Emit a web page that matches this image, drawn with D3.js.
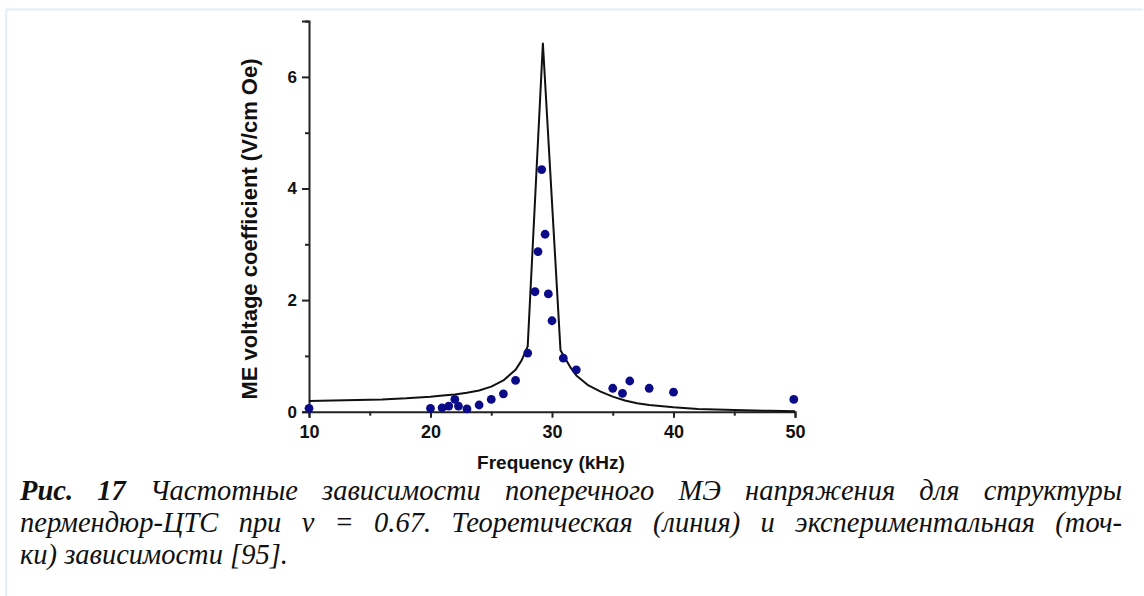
<!DOCTYPE html>
<html><head><meta charset="utf-8">
<script src="https://cdn.jsdelivr.net/npm/d3@7"></script>
<style>
html,body{margin:0;padding:0;background:#fff;}
svg{display:block;}
</style></head>
<body>
<svg id="chart" width="1144" height="596"></svg>
<script>
// Theoretical curve
const theoryFreq = [10, 12, 14, 16, 18, 20, 21, 22, 23, 24, 25, 26, 27, 27.5, 28, 29.25, 30.7, 31.5, 32, 33, 34, 35, 36, 37, 38, 40, 42, 45, 48, 50];
const theoryVal  = [0.19, 0.20, 0.21, 0.22, 0.24, 0.27, 0.29, 0.31, 0.34, 0.38, 0.45, 0.56, 0.75, 0.92, 1.17, 6.6, 1.1, 0.8, 0.65, 0.47, 0.36, 0.27, 0.2, 0.15, 0.12, 0.08, 0.05, 0.03, 0.015, 0.01];
// Experimental points
const expFreq = [10, 20, 20.95, 21.5, 22, 22.3, 23, 24, 25, 26, 27, 28, 28.6, 28.85, 29.15, 29.43, 29.7, 30, 30.93, 32, 35, 35.8, 36.4, 38, 40, 49.9];
const expVal  = [0.06, 0.06, 0.07, 0.1, 0.22, 0.1, 0.05, 0.12, 0.22, 0.32, 0.56, 1.05, 2.15, 2.87, 4.34, 3.18, 2.11, 1.63, 0.96, 0.75, 0.42, 0.33, 0.55, 0.42, 0.35, 0.22];
// Ticks
const xMajor = [10, 20, 30, 40, 50];
const xMinor = [15, 25, 35, 45];
const yMajor = [0, 2, 4, 6];
const yMinor = [1, 3, 5, 7];
const xTitle = "Frequency (kHz)";
const yTitle = "ME voltage coefficient (V/cm Oe)";
const captionBold = "Рис. 17";
const captionLines = [
  " Частотные зависимости поперечного МЭ напряжения для структуры",
  "пермендюр-ЦТС при ν = 0.67. Теоретическая (линия) и экспериментальная (точ-",
  "ки) зависимости [95]."
];

const svg = d3.select("#chart");
// light frame
svg.append("line").attr("x1",6).attr("x2",1143).attr("y1",9.5).attr("y2",9.5)
  .attr("stroke","#e2f0f5").attr("stroke-width",2.2);
svg.append("line").attr("x1",6.2).attr("x2",6.2).attr("y1",9).attr("y2",596)
  .attr("stroke","#e2f0f5").attr("stroke-width",2.2);

const x = d3.scaleLinear().domain([10,50]).range([309,795]);
const y = d3.scaleLinear().domain([0,7]).range([411.7,21.1]);

const font = "'Liberation Sans', Arial, sans-serif";

// x axis
const gx = svg.append("g").attr("transform","translate(0,411.7)");
gx.call(d3.axisBottom(x).tickValues(xMajor).tickSize(6).tickPadding(8).tickFormat(d3.format("d")));
gx.append("g").call(d3.axisBottom(x).tickValues(xMinor).tickSize(4).tickFormat(""))
  .select(".domain").remove();
gx.selectAll(".domain").attr("stroke","#222").attr("stroke-width",2);
gx.selectAll(".tick line").attr("stroke","#222").attr("stroke-width",2);
gx.selectAll(".tick text").attr("font-family",font).attr("font-weight","bold").attr("font-size",18).attr("fill","#111");

// y axis
const gy = svg.append("g").attr("transform","translate(309,0)");
gy.call(d3.axisLeft(y).tickValues(yMajor).tickSize(7).tickPadding(5).tickFormat(d3.format("d")));
gy.append("g").call(d3.axisLeft(y).tickValues(yMinor).tickSize(4).tickFormat(""))
  .select(".domain").remove();
gy.selectAll(".domain").attr("stroke","#222").attr("stroke-width",2);
gy.selectAll(".tick line").attr("stroke","#222").attr("stroke-width",2);
gy.selectAll(".tick text").attr("font-family",font).attr("font-weight","bold").attr("font-size",17).attr("fill","#111");

// theory line
const theory = theoryFreq.map((f,i)=>({f, v: theoryVal[i]}));
svg.append("path").datum(theory)
  .attr("fill","none").attr("stroke","#111").attr("stroke-width",2).attr("stroke-linejoin","round")
  .attr("d", d3.line().x(d=>x(d.f)).y(d=>y(d.v)));

// points
const exp = expFreq.map((f,i)=>({f, v: expVal[i]}));
svg.append("g").selectAll("circle").data(exp).join("circle")
  .attr("cx",d=>x(d.f)).attr("cy",d=>y(d.v)).attr("r",4.4).attr("fill","#0b0b8a");

// axis titles
svg.append("text").attr("x",551).attr("y",468.5).attr("text-anchor","middle")
  .attr("font-family",font).attr("font-weight","bold").attr("font-size",19).attr("fill","#111").text(xTitle);
svg.append("text").attr("transform","translate(257,229) rotate(-90)").attr("text-anchor","middle")
  .attr("font-family",font).attr("font-weight","bold").attr("font-size",22).attr("fill","#111").text(yTitle);

// caption (italic serif, justified)
const serif = "'Liberation Serif', 'Times New Roman', serif";
const left = 20, right = 1122, sx = 0.95;
const baselines = [500, 532, 564];
captionLines.forEach((line,i)=>{
  const t = svg.append("text").attr("transform",`translate(${left},${baselines[i]}) scale(${sx},1)`)
    .attr("font-family",serif).attr("font-style","italic").attr("font-size",30).attr("fill","#111");
  if(i===0){
    t.append("tspan").attr("font-weight","bold").text(captionBold);
  }
  t.append("tspan").text(line);
  if(i<2){
    const w = t.node().getComputedTextLength();
    const text = (i===0?captionBold:"") + line;
    const spaces = (text.match(/ /g)||[]).length;
    const extra = ((right-left)/sx - w)/spaces;
    t.style("word-spacing", extra+"px");
  }
});
</script>
</body></html>
